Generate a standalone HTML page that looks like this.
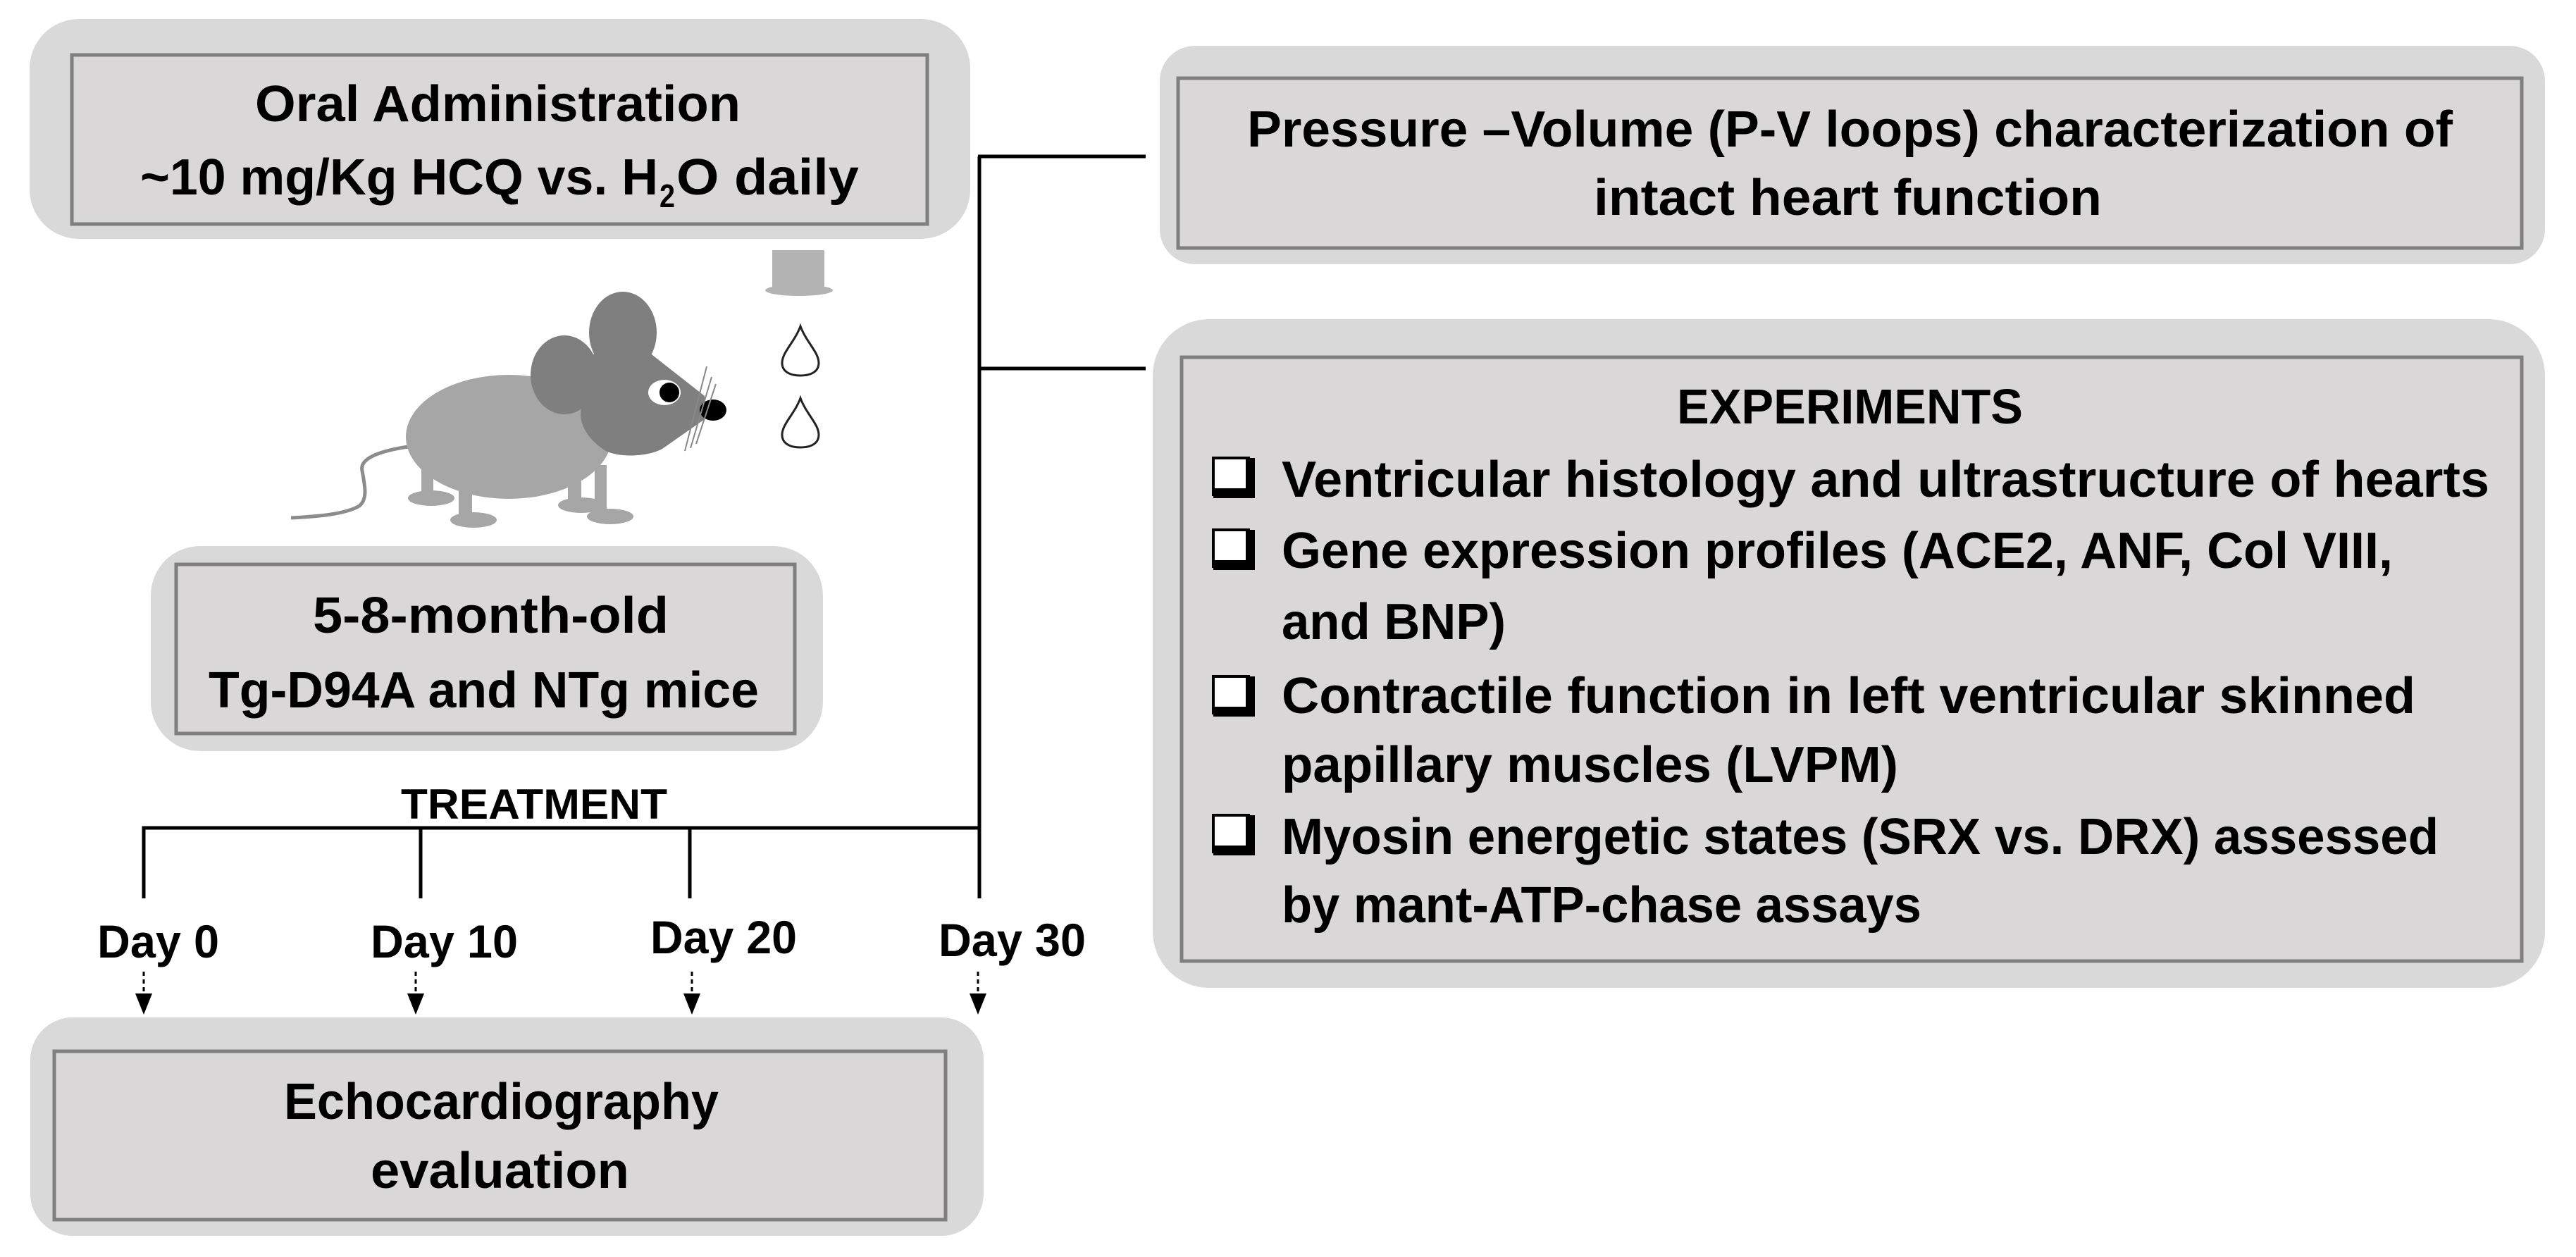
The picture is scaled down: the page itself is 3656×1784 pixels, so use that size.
<!DOCTYPE html>
<html><head><meta charset="utf-8"><style>
html,body{margin:0;padding:0;background:#fff}
svg{display:block}
text{font-family:"Liberation Sans",sans-serif;font-weight:bold;fill:#000}
</style></head><body>
<svg width="3656" height="1784" viewBox="0 0 3656 1784" xmlns="http://www.w3.org/2000/svg">
<!-- Oral box -->
<rect x="42" y="27" width="1335" height="312" rx="70" fill="#dad9da"/>
<rect x="102" y="78" width="1214" height="240" fill="#d9d7d8" stroke="#7f7f7f" stroke-width="5"/>
<text x="362" y="172" font-size="72" textLength="689" lengthAdjust="spacingAndGlyphs">Oral Administration</text>
<text x="199" y="276" font-size="72" textLength="735" lengthAdjust="spacingAndGlyphs">~10 mg/Kg HCQ vs. H</text>
<text x="936" y="294" font-size="46" textLength="22" lengthAdjust="spacingAndGlyphs">2</text>
<text x="960" y="276" font-size="72" textLength="259" lengthAdjust="spacingAndGlyphs">O daily</text>

<!-- Mouse -->
<path d="M579 634 C540 640 510 650 514 668 C518 690 522 708 510 718 C490 730 450 733 413 735" fill="none" stroke="#8c8c8c" stroke-width="5"/>
<rect x="598" y="650" width="17" height="52" fill="#a6a6a6"/>
<rect x="651" y="680" width="19" height="56" fill="#a6a6a6"/>
<rect x="806" y="660" width="19" height="54" fill="#a6a6a6"/>
<rect x="844" y="660" width="17" height="70" fill="#a6a6a6"/>
<ellipse cx="612" cy="707" rx="33" ry="11" fill="#a6a6a6"/>
<ellipse cx="672" cy="738" rx="33" ry="11" fill="#a6a6a6"/>
<ellipse cx="825" cy="717" rx="33" ry="11" fill="#a6a6a6"/>
<ellipse cx="866" cy="733" rx="33" ry="11" fill="#a6a6a6"/>
<ellipse cx="722" cy="620" rx="146" ry="88" fill="#a6a6a6"/>
<ellipse cx="884" cy="472" rx="48" ry="58" fill="#7f7f7f"/>
<path d="M830 503 L921 500 L1000 562 L1000 595 L940 637 C920 648 880 650 860 640 C835 625 820 600 825 580 C815 550 818 520 830 503 Z" fill="#7f7f7f"/>
<ellipse cx="801" cy="532" rx="48" ry="56" fill="#7f7f7f"/>
<ellipse cx="943" cy="557" rx="23" ry="18" fill="#fff"/>
<ellipse cx="950" cy="557" rx="14" ry="14" fill="#000"/>
<ellipse cx="1012" cy="582" rx="19" ry="15" fill="#000"/>
<g stroke="#888" stroke-width="2">
<line x1="1003" y1="520" x2="972" y2="640"/>
<line x1="1010" y1="535" x2="980" y2="636"/>
<line x1="1016" y1="545" x2="988" y2="630"/>
</g>
<!-- bottle & drops -->
<rect x="1096" y="355" width="74" height="52" fill="#b3b3b3"/>
<ellipse cx="1134" cy="412" rx="48" ry="8" fill="#b3b3b3"/>
<path d="M1136 463 C1128 485 1110 500 1110 515 C1110 528 1122 533 1136 533 C1150 533 1162 528 1162 515 C1162 500 1144 485 1136 463 Z" fill="#fff" stroke="#222" stroke-width="3"/>
<path d="M1136 565 C1128 587 1110 602 1110 617 C1110 630 1122 635 1136 635 C1150 635 1162 630 1162 617 C1162 602 1144 587 1136 565 Z" fill="#fff" stroke="#222" stroke-width="3"/>

<!-- Tg box -->
<rect x="214" y="775" width="954" height="291" rx="70" fill="#dad9da"/>
<rect x="250" y="801" width="878" height="240" fill="#d9d7d8" stroke="#7f7f7f" stroke-width="5"/>
<text x="444" y="898" font-size="72" textLength="505" lengthAdjust="spacingAndGlyphs">5-8-month-old</text>
<text x="296" y="1004" font-size="72" textLength="781" lengthAdjust="spacingAndGlyphs">Tg-D94A and NTg mice</text>

<!-- connectors -->
<g stroke="#000" stroke-width="5" fill="none">
<polyline points="204,1275 204,1175 1390,1175"/>
<line x1="597" y1="1175" x2="597" y2="1275"/>
<line x1="979" y1="1175" x2="979" y2="1275"/>
<line x1="1390" y1="1275" x2="1390" y2="222"/>
<line x1="1388" y1="222" x2="1626" y2="222"/>
<line x1="1388" y1="523" x2="1626" y2="523"/>
</g>
<text x="569" y="1162" font-size="60" textLength="378" lengthAdjust="spacingAndGlyphs">TREATMENT</text>
<text x="138" y="1359" font-size="66" textLength="173" lengthAdjust="spacingAndGlyphs">Day 0</text>
<text x="526" y="1359" font-size="66" textLength="209" lengthAdjust="spacingAndGlyphs">Day 10</text>
<text x="923" y="1353" font-size="66" textLength="208" lengthAdjust="spacingAndGlyphs">Day 20</text>
<text x="1332" y="1357" font-size="66" textLength="209" lengthAdjust="spacingAndGlyphs">Day 30</text>
<g stroke="#000" stroke-width="3" stroke-dasharray="6,5">
<line x1="204" y1="1379" x2="204" y2="1412"/>
<line x1="590" y1="1379" x2="590" y2="1412"/>
<line x1="982" y1="1379" x2="982" y2="1412"/>
<line x1="1388" y1="1379" x2="1388" y2="1412"/>
</g>
<g fill="#000">
<polygon points="192,1410 216,1410 204,1440"/>
<polygon points="578,1410 602,1410 590,1440"/>
<polygon points="970,1410 994,1410 982,1440"/>
<polygon points="1376,1410 1400,1410 1388,1440"/>
</g>

<!-- Echo box -->
<rect x="43" y="1444" width="1353" height="310" rx="60" fill="#dad9da"/>
<rect x="77" y="1492" width="1265" height="239" fill="#d9d7d8" stroke="#7f7f7f" stroke-width="5"/>
<text x="403" y="1588" font-size="72" textLength="617" lengthAdjust="spacingAndGlyphs">Echocardiography</text>
<text x="526" y="1686" font-size="72" textLength="367" lengthAdjust="spacingAndGlyphs">evaluation</text>

<!-- PV box -->
<rect x="1646" y="65" width="1966" height="310" rx="50" fill="#dad9da"/>
<rect x="1672" y="111" width="1907" height="241" fill="#d9d7d8" stroke="#7f7f7f" stroke-width="5"/>
<text x="1770" y="208" font-size="72" textLength="1711" lengthAdjust="spacingAndGlyphs">Pressure –Volume (P-V loops) characterization of</text>
<text x="2262" y="305" font-size="72" textLength="721" lengthAdjust="spacingAndGlyphs">intact heart function</text>

<!-- Experiments box -->
<rect x="1636" y="453" width="1976" height="949" rx="80" fill="#dad9da"/>
<rect x="1677" y="507" width="1902" height="857" fill="#d9d7d8" stroke="#7f7f7f" stroke-width="5"/>
<text x="2380" y="601" font-size="70" textLength="491" lengthAdjust="spacingAndGlyphs">EXPERIMENTS</text>
<g fill="#fff" stroke="#000" stroke-width="4">
<rect x="1722" y="650" width="50" height="52"/>
<rect x="1722" y="752" width="50" height="52"/>
<rect x="1722" y="960" width="50" height="52"/>
<rect x="1722" y="1157" width="50" height="52"/>
</g>
<g fill="#000">
<rect x="1722" y="693" width="59" height="14"/><rect x="1768" y="650" width="13" height="57"/>
<rect x="1722" y="795" width="59" height="14"/><rect x="1768" y="752" width="13" height="57"/>
<rect x="1722" y="1003" width="59" height="14"/><rect x="1768" y="960" width="13" height="57"/>
<rect x="1722" y="1200" width="59" height="14"/><rect x="1768" y="1157" width="13" height="57"/>
</g>
<text x="1819" y="705" font-size="72" textLength="1714" lengthAdjust="spacingAndGlyphs">Ventricular histology and ultrastructure of hearts</text>
<text x="1819" y="806" font-size="72" textLength="1577" lengthAdjust="spacingAndGlyphs">Gene expression profiles (ACE2, ANF, Col VIII,</text>
<text x="1819" y="907" font-size="72" textLength="318" lengthAdjust="spacingAndGlyphs">and BNP)</text>
<text x="1819" y="1012" font-size="72" textLength="1609" lengthAdjust="spacingAndGlyphs">Contractile function in left ventricular skinned</text>
<text x="1819" y="1110" font-size="72" textLength="875" lengthAdjust="spacingAndGlyphs">papillary muscles (LVPM)</text>
<text x="1819" y="1212" font-size="72" textLength="1642" lengthAdjust="spacingAndGlyphs">Myosin energetic states (SRX vs. DRX) assessed</text>
<text x="1819" y="1309" font-size="72" textLength="908" lengthAdjust="spacingAndGlyphs">by mant-ATP-chase assays</text>
</svg>
</body></html>
